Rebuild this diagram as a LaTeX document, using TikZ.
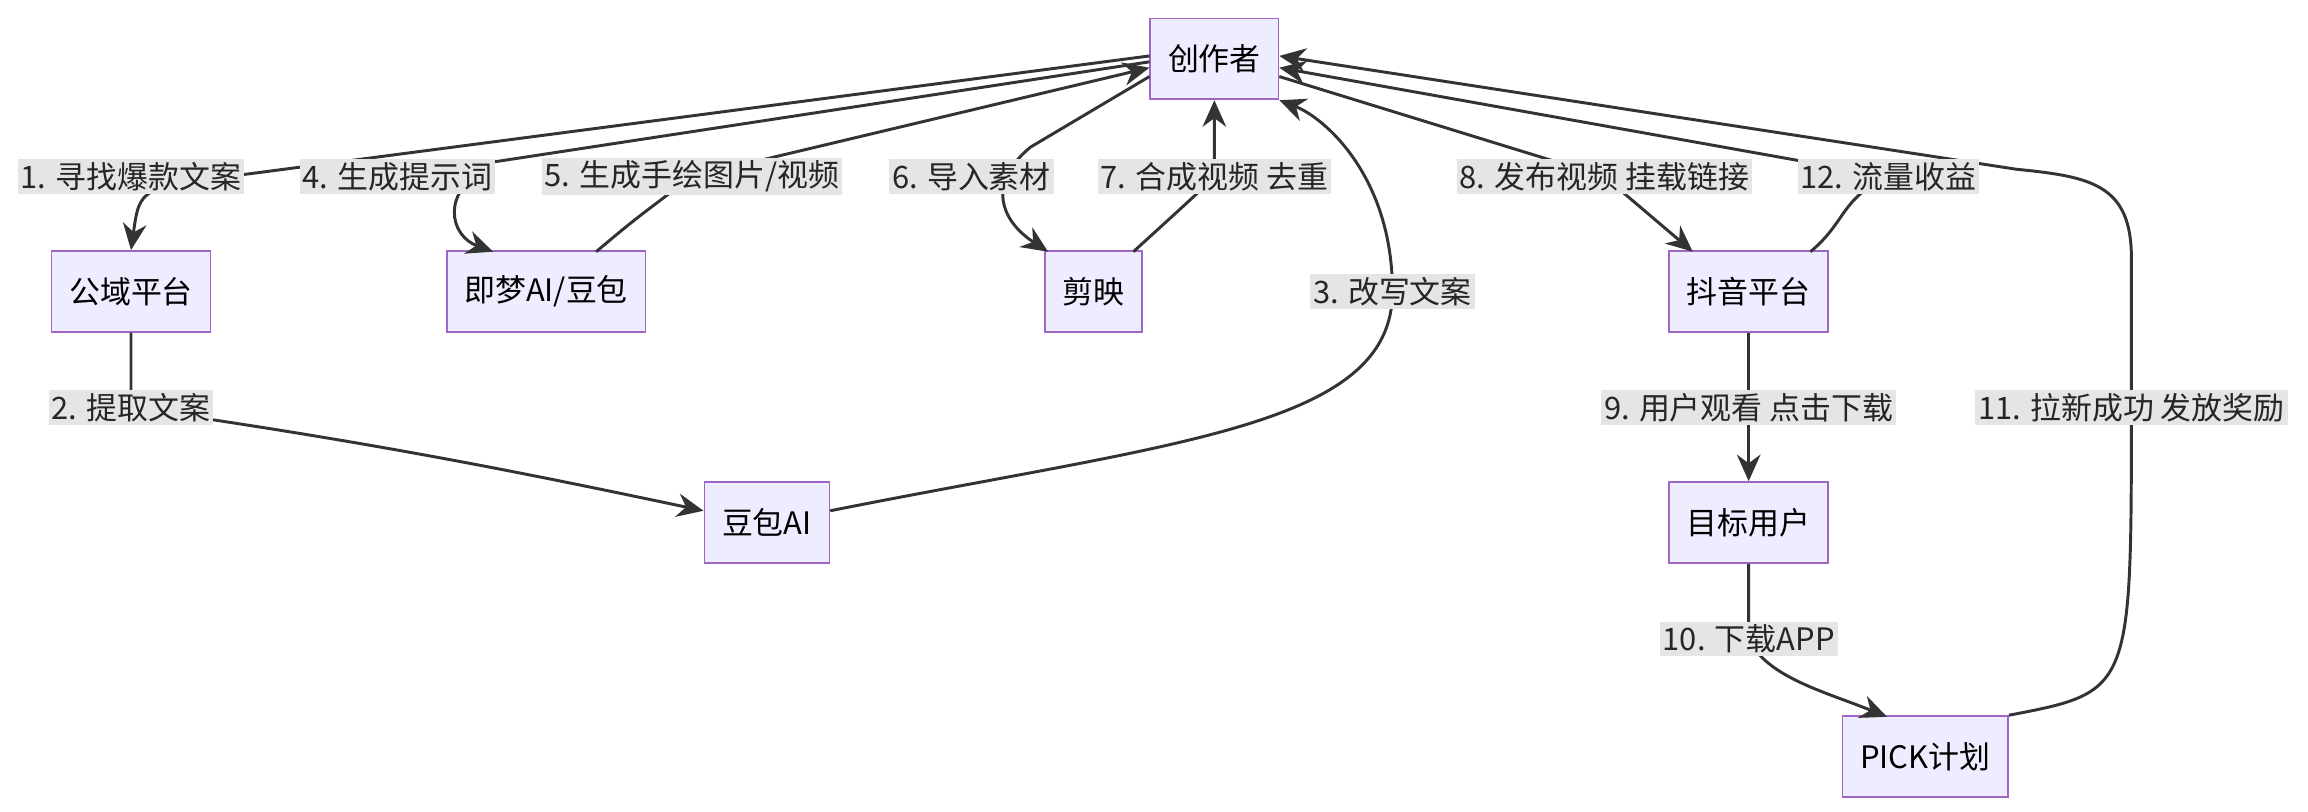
\documentclass[tikz,border=0pt]{standalone}
\usepackage{fontspec}
\setmainfont{Noto Sans CJK SC}
\usetikzlibrary{arrows.meta}
\begin{document}
\begin{tikzpicture}[x=0.5pt,y=-0.5pt,
 box/.style={draw=purple!50!blue!60,fill=blue!7,line width=0.6pt,minimum height=27.5pt,inner xsep=6pt,font=\fontsize{10.5pt}{12pt}\selectfont},
 lab/.style={fill=gray!20,inner sep=1pt,font=\fontsize{10.5pt}{12pt}\selectfont,text=black!85},
 edge/.style={draw=black!80,line width=1pt,-{Stealth[length=9pt,width=8pt]}}]
\useasboundingbox (0,0) rectangle (1568,551);
\node[box] (cz) at (825,40) {创作者};
\node[box] (gy) at (89,198) {公域平台};
\node[box] (jm) at (371,198) {即梦AI/豆包};
\node[box] (jy) at (743,198) {剪映};
\node[box] (dy) at (1188,198) {抖音平台};
\node[box] (db) at (521,355) {豆包AI};
\node[box] (mb) at (1188,355) {目标用户};
\node[box] (pk) at (1308,514) {PICK计划};
% label positions
\coordinate (p1) at (89,120); \coordinate (p4) at (270,120); \coordinate (p5) at (470,120);
\coordinate (p6) at (660,120); \coordinate (p7) at (825,120); \coordinate (p8) at (1090,120);
\coordinate (p12) at (1283,120); \coordinate (p3) at (946,198); \coordinate (p2) at (89,277);
\coordinate (p9) at (1188,277); \coordinate (p11) at (1448,277); \coordinate (p10) at (1188,434);
% edges
\draw[edge] ([yshift=1pt]cz.west) -- (170,118) .. controls (95,127) .. (gy.north);
\draw[edge] ([yshift=-1pt]cz.west) -- (p4) -- (330,115) .. controls (300,130) and (305,160) .. (335,171);
\draw[edge] (405,171) .. controls (430,150) .. (p5) -- ([yshift=-3pt]cz.west);
\draw[edge] ([yshift=-6pt]cz.west) -- (700,100) .. controls (670,125) and (680,150) .. (712,171);
\draw[edge] (770,171) .. controls (815,130) .. (p7) -- (cz.south);
\draw[edge] ([yshift=-6pt]cz.east) -- (p8) -- (1150,171);
\draw[edge] (1230,171) .. controls (1255,150) and (1250,135) .. (p12) -- ([yshift=-3pt]cz.east);
\draw[edge] (pk.north east) .. controls (1448,470) .. (p11) -- (1448,175) .. controls (1448,125) and (1420,120) .. (1370,115) -- ([yshift=1pt]cz.east);
\draw[edge] (db.east) ++(0,-8) .. controls (800,300) and (946,290) .. (p3) .. controls (946,120) and (900,80) .. (cz.south east);
\draw[edge] (gy.south) .. controls (89,262) .. (p2) .. controls (250,300) and (350,320) .. ([yshift=4pt]db.west);
\draw[edge] (dy.south) -- (p9) -- (mb.north);
\draw[edge] (mb.south) .. controls (1188,420) .. (p10) .. controls (1200,460) and (1240,470) .. (1282,487);
% labels
\node[lab] at (p1) {1. 寻找爆款文案};
\node[lab] at (p4) {4. 生成提示词};
\node[lab] at (p5) {5. 生成手绘图片/视频};
\node[lab] at (p6) {6. 导入素材};
\node[lab] at (p7) {7. 合成视频 去重};
\node[lab] at (p8) {8. 发布视频 挂载链接};
\node[lab] at (p12) {12. 流量收益};
\node[lab] at (p3) {3. 改写文案};
\node[lab] at (p2) {2. 提取文案};
\node[lab] at (p9) {9. 用户观看 点击下载};
\node[lab] at (p11) {11. 拉新成功 发放奖励};
\node[lab] at (p10) {10. 下载APP};
\end{tikzpicture}
\end{document}
